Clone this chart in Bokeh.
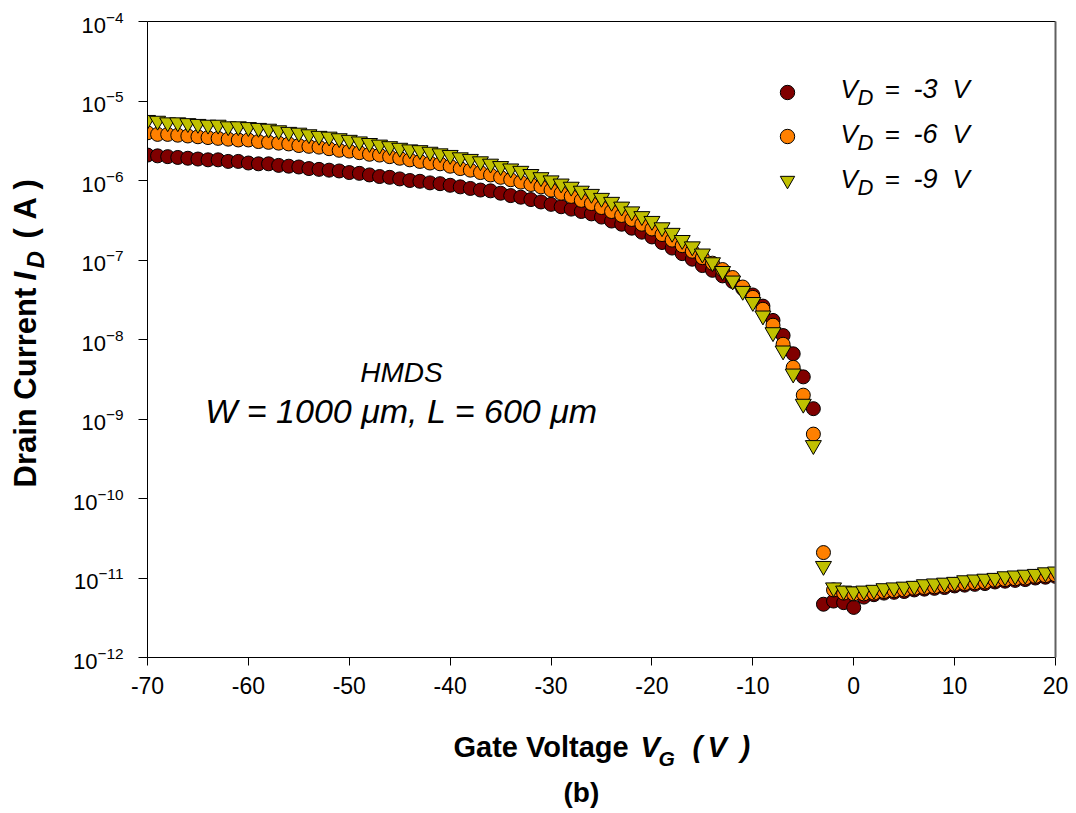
import math
from bokeh.plotting import figure
from bokeh.layouts import row, column
from bokeh.models import (Range1d, FixedTicker, LinearAxis, Label, Legend,
                          LegendItem, ColumnDataSource)
from bokeh.core.properties import value
from bokeh.embed import file_html
from bokeh.resources import INLINE

# ---------------- data ----------------
gate_voltage = list(range(-70, 21))          # V_G in volts, 1 V steps

# log10 of drain current (A), V_D = -3 V
log10_id_vd3 = [
    -5.68, -5.69, -5.70, -5.71, -5.72, -5.73, -5.74, -5.74, -5.76, -5.76,
    -5.78, -5.79, -5.79, -5.81, -5.82, -5.83, -5.85, -5.86, -5.87, -5.88,
    -5.90, -5.91, -5.93, -5.95, -5.96, -5.98, -6.00, -6.01, -6.03, -6.04,
    -6.06, -6.08, -6.10, -6.12, -6.13, -6.16, -6.19, -6.21, -6.24, -6.27,
    -6.30, -6.33, -6.36, -6.39, -6.42, -6.46, -6.51, -6.55, -6.60, -6.65,
    -6.71, -6.78, -6.85, -6.92, -6.99, -7.07, -7.13, -7.20, -7.27, -7.36,
    -7.44, -7.58, -7.76, -7.95, -8.18, -8.47, -8.87, -11.33, -11.29, -11.31,
    -11.37, -11.24, -11.21, -11.19, -11.18, -11.17, -11.15, -11.14, -11.13, -11.12,
    -11.10, -11.09, -11.08, -11.07, -11.05, -11.04, -11.03, -11.02, -11.00, -10.99, -10.98,
]
# V_D = -6 V
log10_id_vd6 = [
    -5.40, -5.42, -5.42, -5.43, -5.44, -5.45, -5.46, -5.47, -5.48, -5.49,
    -5.49, -5.51, -5.52, -5.53, -5.54, -5.56, -5.57, -5.58, -5.60, -5.62,
    -5.63, -5.65, -5.67, -5.68, -5.70, -5.72, -5.74, -5.76, -5.78, -5.79,
    -5.82, -5.85, -5.87, -5.90, -5.93, -5.96, -5.99, -6.02, -6.05, -6.08,
    -6.12, -6.16, -6.20, -6.25, -6.29, -6.34, -6.39, -6.44, -6.49, -6.55,
    -6.61, -6.68, -6.75, -6.82, -6.89, -6.97, -7.04, -7.12, -7.22, -7.34,
    -7.47, -7.62, -7.82, -8.06, -8.35, -8.70, -9.19, -10.68, -11.15, -11.19,
    -11.20, -11.20, -11.19, -11.17, -11.16, -11.15, -11.13, -11.12, -11.11, -11.10,
    -11.08, -11.07, -11.06, -11.05, -11.03, -11.02, -11.01, -11.00, -10.98, -10.97, -10.96,
]
# V_D = -9 V
log10_id_vd9 = [
    -5.24, -5.25, -5.27, -5.27, -5.28, -5.29, -5.30, -5.30, -5.32, -5.32,
    -5.33, -5.34, -5.35, -5.37, -5.39, -5.40, -5.42, -5.44, -5.45, -5.47,
    -5.49, -5.51, -5.53, -5.55, -5.57, -5.59, -5.61, -5.62, -5.64, -5.66,
    -5.68, -5.71, -5.73, -5.76, -5.79, -5.82, -5.85, -5.88, -5.92, -5.96,
    -6.00, -6.04, -6.08, -6.13, -6.17, -6.22, -6.27, -6.33, -6.39, -6.45,
    -6.51, -6.59, -6.66, -6.75, -6.83, -6.92, -7.03, -7.14, -7.26, -7.39,
    -7.53, -7.70, -7.91, -8.14, -8.43, -8.81, -9.33, -10.85, -11.12, -11.16,
    -11.17, -11.16, -11.15, -11.13, -11.12, -11.11, -11.10, -11.08, -11.07, -11.06,
    -11.05, -11.03, -11.02, -11.01, -11.00, -10.98, -10.97, -10.96, -10.95, -10.93, -10.92,
]

x_ticks = [-70, -60, -50, -40, -30, -20, -10, 0, 10, 20]
y_ticks = [1e-12, 1e-11, 1e-10, 1e-9, 1e-8, 1e-7, 1e-6, 1e-5, 1e-4]

legend_values = ["-3", "-6", "-9"]

# ---------------- layout geometry (page pixels) ----------------
W, H = 1076, 813
LW = 60                      # left strip holding the y-axis title
MAIN_H = 712                 # main figure height; strip below holds x title
FL, FR, FT, FB = 147, 1055, 21, 657   # plot frame on the page
BASE_SHIFT = 0.42            # label anchor offset (in em) to land on the baseline

FONT = "Liberation Sans"

p = figure(width=W - LW, height=MAIN_H, output_backend="svg", toolbar_location=None,
           y_axis_type="log",
           x_range=Range1d(-70, 20), y_range=Range1d(1e-12, 1e-4),
           min_border_left=FL - LW, min_border_right=W - FR,
           min_border_top=FT, min_border_bottom=MAIN_H - FB)
p.outline_line_color = None
p.background_fill_color = "white"
p.border_fill_color = "white"
p.xgrid.visible = False
p.ygrid.visible = False

ax = p.xaxis[0]
ax.ticker = FixedTicker(ticks=x_ticks)
ax.major_label_overrides = {float(v): str(v) for v in x_ticks}
ax.major_tick_out = 8
ax.major_tick_in = 0
ax.minor_tick_line_color = None
ax.axis_line_color = "black"
ax.major_tick_line_color = "black"
ax.major_label_text_font = FONT
ax.major_label_text_font_size = "23px"
ax.major_label_text_color = "black"
ax.major_label_standoff = 11

ay = p.yaxis[0]
ay.ticker = FixedTicker(ticks=y_ticks)
ay.major_tick_out = 9
ay.major_tick_in = 0
ay.minor_tick_line_color = None
ay.axis_line_color = "black"
ay.major_tick_line_color = "black"
ay.major_label_text_font = FONT
ay.major_label_text_font_size = "22px"
ay.major_label_text_color = "black"
ay.major_label_standoff = 15

top = LinearAxis(ticker=FixedTicker(ticks=[]), axis_line_color="black",
                 major_tick_line_color=None, minor_tick_line_color=None,
                 major_label_text_font_size="0px")
p.add_layout(top, "above")
right = LinearAxis(ticker=FixedTicker(ticks=[]), axis_line_color="#606060",
                   axis_line_width=2,
                   major_tick_line_color=None, minor_tick_line_color=None,
                   major_label_text_font_size="0px")
p.add_layout(right, "right")

src = ColumnDataSource(dict(
    vg=gate_voltage,
    id3=[10 ** v for v in log10_id_vd3],
    id6=[10 ** v for v in log10_id_vd6],
    id9=[10 ** v for v in log10_id_vd9],
))

r3 = p.scatter("vg", "id3", source=src, marker="circle", size=14,
               fill_color="#800000", line_color="black", line_width=1)
r6 = p.scatter("vg", "id6", source=src, marker="circle", size=14,
               fill_color="#FF8000", line_color="black", line_width=1)
r9 = p.scatter("vg", "id9", source=src, marker="inverted_triangle", size=16,
               fill_color="#C0C000", line_color="black", line_width=1)

# legend keys (glyphs only; the texts are drawn separately with subscripts)
legend = Legend(items=[LegendItem(label=value(""), renderers=[r]) for r in (r3, r6, r9)],
                location=(769 - FL, FB - 70 - 132),
                glyph_width=36, glyph_height=44, spacing=0, padding=0, margin=0,
                label_standoff=0, label_width=0, label_height=20,
                border_line_color=None, background_fill_alpha=0)
p.add_layout(legend, "center")


def dx(px):
    return -70 + (px - FL) * 90 / (FR - FL)


def dy(py):
    return 10 ** (-4 - (py - FT) * 8 / (FB - FT))


def lab(fig, text, x, y, size, style="normal", align="left", angle=0.0):
    fig.add_layout(Label(x=x, y=y, text=text, text_font=FONT,
                         text_font_size=f"{size}px", text_font_style=style,
                         text_align=align, text_baseline="alphabetic",
                         text_color="black", angle=angle))


def plab(text, px, py, size, style="normal", align="left"):
    # py is the wanted baseline on the page
    lab(p, text, dx(px), dy(py - BASE_SHIFT * size), size, style, align)


def blab(fig, text, px, py, size, style="normal"):
    lab(fig, text, px, py - BASE_SHIFT * size, size, style)


def vlab(fig, text, bx, py, size, style="normal"):
    # rotated text: bx is the wanted baseline x, py the start (bottom) of the text
    lab(fig, text, bx - BASE_SHIFT * size, py, size, style, angle=math.pi / 2)


# legend texts
for i, t in enumerate(legend_values):
    base = 99 + 45 * i
    plab("V", 840, base, 26, "italic")
    plab("D", 857, base + 7, 22, "italic")
    plab("=", 884, base, 26, "italic")
    plab(t, 913, base, 27, "italic")
    plab("V", 952, base, 26, "italic")

# annotation
plab("HMDS", 401, 384, 28, "italic", align="center")
plab("W = 1000 \u03bcm, L = 600 \u03bcm", 401, 425, 34, "italic", align="center")


def aux(width, height, x0, x1, y0, y1, **borders):
    f = figure(width=width, height=height, output_backend="svg", toolbar_location=None,
               x_range=Range1d(x0, x1), y_range=Range1d(y0, y1),
               x_axis_location=None, y_axis_location=None, **borders)
    f.outline_line_color = None
    f.grid.visible = False
    f.background_fill_color = "white"
    f.border_fill_color = "white"
    return f


# left strip (same frame height as the main plot); data coords = page pixels
left = aux(LW, MAIN_H, 0, LW, FB, FT,
           min_border_left=0, min_border_right=0,
           min_border_top=FT, min_border_bottom=MAIN_H - FB)
vlab(left, "Drain Current", 38, 487, 31, "bold")
vlab(left, "I", 38, 280, 31, "bold italic")
vlab(left, "D", 45, 268, 24, "bold italic")
vlab(left, "(", 38, 238, 31, "bold")
vlab(left, "A", 38, 219, 31, "bold")
vlab(left, ")", 38, 189, 31, "bold")

# bottom strip (full width); data coords = page pixels
bot = aux(W, H - MAIN_H, 0, W, H, MAIN_H, min_border=0)
blab(bot, "Gate Voltage", 453, 759, 29, "bold")
blab(bot, "V", 640, 759, 29, "bold italic")
blab(bot, "G", 658, 767, 21, "bold italic")
blab(bot, "(", 692, 759, 29, "bold italic")
blab(bot, "V", 707, 759, 29, "bold italic")
blab(bot, ")", 740, 759, 29, "bold italic")
blab(bot, "(b)", 563, 804, 28, "bold")

layout = column(row(left, p), bot)
open("out.html", "w").write(file_html(layout, INLINE))
